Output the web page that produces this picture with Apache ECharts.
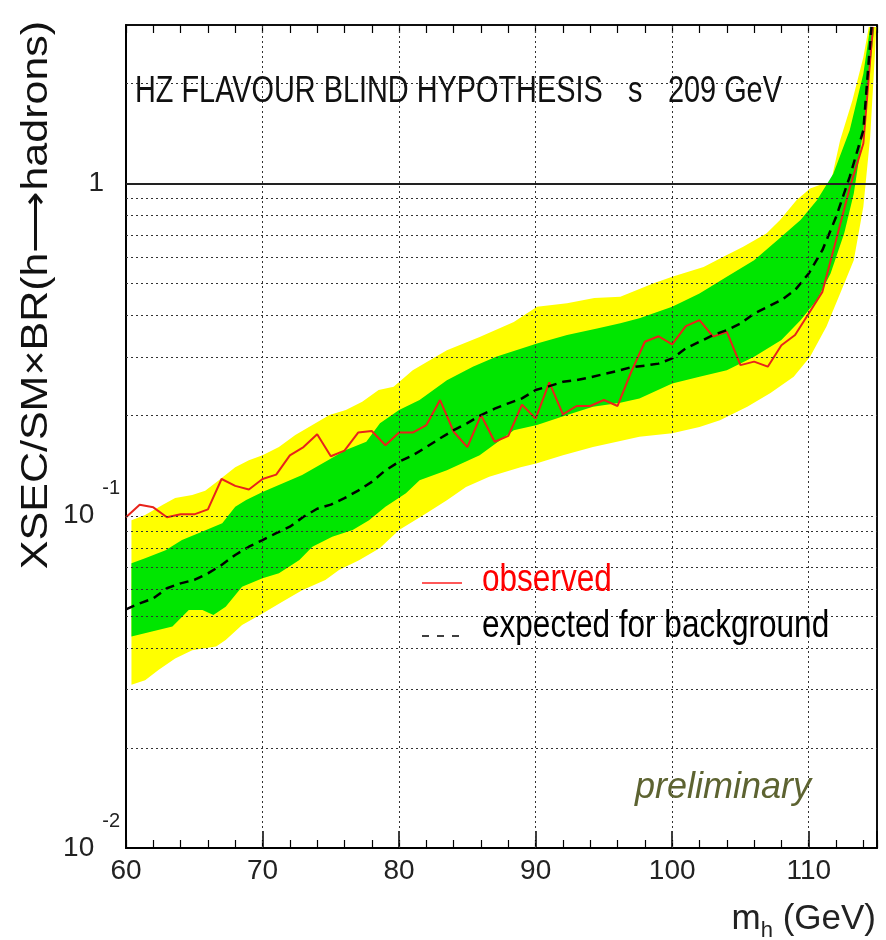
<!DOCTYPE html>
<html>
<head>
<meta charset="utf-8">
<script src="https://cdn.jsdelivr.net/npm/echarts@6/dist/echarts.min.js"></script>
<style>html,body{margin:0;padding:0;background:#fff}#c{width:886px;height:940px}</style>
</head>
<body>
<div id="c"></div>
<script>
// ---- data ----
const obsX = [60,61,62,63,64,65,66,67,68,69,70,71,72,73,74,75,76,77,78,79,80,81,82,83,84,85,86,87,88,89,90,91,92,93,94,95,96,97,98,99,100,101,102,103,104,105,106,107,108,109,110,111,112,113,114,114.7];
const obsY = [0.099,0.108,0.106,0.099,0.101,0.101,0.1045,0.129,0.123,0.120,0.129,0.133,0.152,0.161,0.176,0.151,0.157,0.178,0.180,0.163,0.178,0.178,0.1875,0.223,0.179,0.161,0.201,0.167,0.174,0.216,0.196,0.252,0.202,0.214,0.214,0.223,0.214,0.271,0.334,0.347,0.328,0.372,0.388,0.346,0.358,0.284,0.291,0.281,0.326,0.350,0.406,0.472,0.675,0.97,1.32,2.96];

const expX = [60,61,62,63,64,65,66,67,68,69,70,71,72,73,74,75,76,77,78,79,80,81,82,83,84,85,86,87,88,89,90,91,92,93,94,95,96,97,98,99,100,101,102,103,104,105,106,107,108,109,110,111,112,113,114,114.4,114.6];
const expY = [0.0523,0.0545,0.0564,0.0605,0.0626,0.0641,0.0671,0.0711,0.0762,0.0807,0.0845,0.0886,0.0927,0.0993,0.105,0.108,0.113,0.119,0.1265,0.137,0.1454,0.152,0.161,0.171,0.181,0.190,0.201,0.210,0.218,0.2255,0.239,0.2456,0.253,0.256,0.261,0.267,0.273,0.280,0.283,0.287,0.2975,0.319,0.334,0.350,0.362,0.379,0.406,0.4255,0.446,0.478,0.536,0.630,0.793,1.047,1.446,2.35,2.96];

// 2 sigma band (yellow) edges: [mass, value]
const yellowHi = [[60.4,0.097],[61.4,0.1005],[62.7,0.108],[63.6,0.113],[64.85,0.1154],[65.8,0.119],[66.8,0.128],[68,0.140],[69,0.147],[70,0.152],[71.2,0.161],[72.4,0.175],[73.65,0.1875],[74.9,0.201],[76.1,0.208],[77.3,0.2205],[78.5,0.239],[79.6,0.2445],[81,0.274],[83.5,0.315],[85.9,0.345],[88.4,0.383],[90.1,0.4255],[92.3,0.436],[94.3,0.452],[96.2,0.456],[98.6,0.500],[100,0.524],[102.3,0.561],[103.5,0.595],[105.2,0.645],[106.9,0.707],[107.9,0.776],[109.1,0.891],[110.1,0.966],[111.1,1.0],[111.6,1.0],[112.3,1.35],[113.2,1.78],[114.0,2.40],[114.4,2.96]];
const yellowLo = [[60.4,0.031],[61.4,0.032],[62.4,0.0344],[63.6,0.0372],[64.85,0.0394],[66.6,0.0404],[67.3,0.0423],[68.5,0.0469],[70,0.0508],[71.45,0.0551],[72.9,0.0597],[74.6,0.0641],[75.6,0.0687],[77.1,0.0736],[78.6,0.0800],[80,0.0906],[82,0.1017],[83.5,0.1114],[84.9,0.122],[86.6,0.131],[88.9,0.140],[90.1,0.1438],[92,0.152],[94.2,0.161],[96.2,0.168],[97.6,0.173],[100,0.177],[102,0.185],[103.5,0.194],[105.5,0.213],[107.2,0.234],[108.9,0.262],[110.1,0.301],[111.3,0.371],[112.3,0.467],[113.3,0.588],[114,0.851],[114.5,1.38],[114.85,2.46],[114.95,2.96]];
// 1 sigma band (green) edges
const greenHi = [[60.4,0.0719],[61.4,0.0745],[62.9,0.0788],[64.1,0.0845],[65.3,0.0886],[67.05,0.0949],[68,0.1064],[68.8,0.1115],[70,0.118],[71.45,0.125],[72.9,0.1326],[74.6,0.1454],[76.1,0.1577],[77.6,0.167],[78.6,0.19],[80,0.208],[81.5,0.223],[83.5,0.256],[85.4,0.281],[87.1,0.301],[90.1,0.330],[92.3,0.350],[94.5,0.366],[96.2,0.38],[97.6,0.393],[100,0.4255],[102,0.467],[104,0.524],[106,0.588],[107.7,0.675],[109.4,0.776],[110.6,0.891],[111.8,1.07],[113,1.446],[114,2.14],[114.5,2.96]];
const greenLo = [[60.4,0.0433],[61.9,0.0448],[63.4,0.0464],[64.6,0.052],[65.6,0.052],[66.4,0.0503],[67.3,0.0532],[68.5,0.0611],[70,0.0648],[71.2,0.0671],[72.7,0.0736],[73.65,0.0807],[75.1,0.0865],[76.6,0.0906],[77.8,0.097],[79,0.1064],[80.5,0.1168],[81.5,0.128],[83.5,0.137],[85.9,0.152],[88.4,0.181],[90.1,0.1875],[92.3,0.201],[94.2,0.213],[96.2,0.219],[97.6,0.2255],[100,0.250],[102,0.262],[104,0.274],[106,0.301],[108,0.338],[109.4,0.388],[110.6,0.446],[111.6,0.536],[112.6,0.708],[113.3,0.933],[114,1.446],[114.6,2.46],[114.8,2.96]];

// grid lines and axis
const xGridLines = [70,80,90,100,110];
const yGridLines = [0.02,0.03,0.04,0.05,0.06,0.07,0.08,0.09,0.1,0.2,0.3,0.4,0.5,0.6,0.7,0.8,0.9,2];
const yRefLine = 1;
const xMin = 60, xMax = 115, yMin = 0.01, yMax = 3;
const yTickLabels = {0.01: '{b|10}{s|-2}', 0.1: '{b|10}{s|-1}', 1: '{one|1}'};
const legendNames = ['observed', 'expected for background'];

const SANS = '"Liberation Sans", Arial, sans-serif';
const SQ = 0.8; // horizontal squeeze of the condensed lettering

function band(name, hi, lo, color) {
  return {
    type: 'custom', name: name, z: 1, silent: true, data: [0],
    renderItem: function (params, api) {
      const pts = hi.map(p => api.coord(p)).concat(lo.slice().reverse().map(p => api.coord(p)));
      return {type: 'polygon', shape: {points: pts}, style: {fill: color}};
    }
  };
}

function sqText(x, y, text, font, fill, extra) {
  return Object.assign({type: 'text', x: x, y: y, scaleX: SQ, z: 10, silent: true,
    style: {text: text, font: font, fill: fill, align: 'left', verticalAlign: 'middle'}}, extra || {});
}

const chart = echarts.init(document.getElementById('c'), null, {renderer: 'canvas'});
const G = {left: 126, top: 25, width: 751, height: 823};

chart.setOption({
  animation: false,
  backgroundColor: '#fff',
  grid: Object.assign({show: true, borderColor: '#000', borderWidth: 1.5, backgroundColor: 'transparent'}, G),
  xAxis: [
    {type: 'value', min: xMin, max: xMax, interval: 10, position: 'bottom',
      axisLine: {show: true, onZero: false, lineStyle: {color: '#000', width: 2}},
      axisTick: {show: true, inside: true, length: 17, lineStyle: {color: '#000', width: 1.5}},
      axisLabel: {show: true, margin: 9, color: '#222', fontSize: 28, fontFamily: SANS,
        formatter: v => (v % 10 === 0 ? String(v) : '')},
      splitLine: {show: false}},
    {type: 'value', min: xMin, max: xMax, interval: 2, position: 'bottom',
      axisLine: {show: false}, axisLabel: {show: false}, splitLine: {show: false},
      axisTick: {show: true, inside: true, length: 8, lineStyle: {color: '#000', width: 1.2}}},
    {type: 'value', min: xMin, max: xMax, interval: 2, position: 'top',
      axisLine: {show: true, onZero: false, lineStyle: {color: '#000', width: 1.5}},
      axisLabel: {show: false}, splitLine: {show: false},
      axisTick: {show: true, inside: true, length: 8, lineStyle: {color: '#000', width: 1.2}}}
  ],
  yAxis: [
    {type: 'log', logBase: 10, min: yMin, max: yMax, position: 'left',
      axisLine: {show: true, onZero: false, lineStyle: {color: '#000', width: 2}},
      axisTick: {show: false}, splitLine: {show: false},
      axisLabel: {show: true, margin: 6, color: '#222', showMaxLabel: false,
        formatter: function (v) {
          for (const k in yTickLabels) { if (Math.abs(Math.log10(v) - Math.log10(+k)) < 1e-6) return yTickLabels[k]; }
          return '';
        },
        rich: {
          b: {fontSize: 28, fontFamily: SANS, color: '#222'},
          s: {fontSize: 20, fontFamily: SANS, color: '#222', padding: [0, 0, 54, 8]},
          one: {fontSize: 28, fontFamily: SANS, color: '#222', padding: [0, 16, 0, 0]}
        }}},
    {type: 'log', logBase: 10, min: yMin, max: yMax, position: 'right',
      axisLine: {show: true, onZero: false, lineStyle: {color: '#000', width: 1.5}},
      axisTick: {show: false}, axisLabel: {show: false}, splitLine: {show: false}}
  ],
  graphic: [
    sqText(135, 92, 'HZ FLAVOUR BLIND HYPOTHESIS', '37px ' + SANS, '#111', {scaleX: 0.78}),
    sqText(628, 92, 's', '37px ' + SANS, '#111', {scaleX: 0.78}),
    sqText(668, 92, '209 GeV', '37px ' + SANS, '#111', {scaleX: 0.78}),
    // legend
    {type: 'line', z: 10, silent: true, shape: {x1: 422, y1: 583, x2: 462, y2: 583},
      style: {stroke: '#ff2020', lineWidth: 1.6}},
    sqText(482, 581, legendNames[0], '38px ' + SANS, '#ff0000', {scaleX: 0.83}),
    {type: 'line', z: 10, silent: true, shape: {x1: 422, y1: 636, x2: 460, y2: 636},
      style: {stroke: '#000', lineWidth: 1.6, lineDash: [7, 8]}},
    sqText(482, 627, legendNames[1], '38px ' + SANS, '#000', {scaleX: 0.83}),
    {type: 'text', x: 635, y: 788, z: 10, silent: true,
      style: {text: 'preliminary', font: 'italic 36px ' + SANS, fill: '#5d6331', verticalAlign: 'middle'}},
    {type: 'text', right: 10, top: 902, z: 10, silent: true,
      style: {text: '{m|m}{h|h}{g| (GeV)}', fill: '#222',
        rich: {m: {fontSize: 35, fontFamily: SANS}, h: {fontSize: 22, fontFamily: SANS, padding: [22, 0, 0, 0]}, g: {fontSize: 35, fontFamily: SANS}}}},
    {type: 'text', x: 37, y: 295, rotation: Math.PI / 2, scaleY: 0.86, z: 10, silent: true,
      style: {text: 'XSEC/SM×BR(h⟶hadrons)', font: '43px ' + SANS, fill: '#111', align: 'center', verticalAlign: 'middle'}}
  ],
  series: [
    band('±2σ', yellowHi, yellowLo, '#ffff00'),
    band('±1σ', greenHi, greenLo, '#00e600'),
    {type: 'line', name: 'grid', z: 2, silent: true, symbol: 'none', data: [],
      lineStyle: {opacity: 0},
      markLine: {silent: true, symbol: ['none', 'none'], label: {show: false}, animation: false,
        lineStyle: {color: '#333', type: [2, 3], width: 1},
        emphasis: {disabled: true},
        data: xGridLines.map(v => ({xAxis: v})).concat(yGridLines.map(v => ({yAxis: v})))
          .concat([{yAxis: yRefLine, lineStyle: {type: 'solid', width: 2, color: '#222'}}])}},
    {type: 'line', name: legendNames[0], z: 4, symbol: 'none', showSymbol: false,
      data: obsX.map((x, i) => [x, obsY[i]]),
      lineStyle: {color: '#e8231b', width: 2}},
    {type: 'line', name: legendNames[1], z: 4, symbol: 'none', showSymbol: false,
      data: expX.map((x, i) => [x, expY[i]]),
      lineStyle: {color: '#000', width: 2.5, type: [9, 6]}}
  ]
});
</script>
</body>
</html>
